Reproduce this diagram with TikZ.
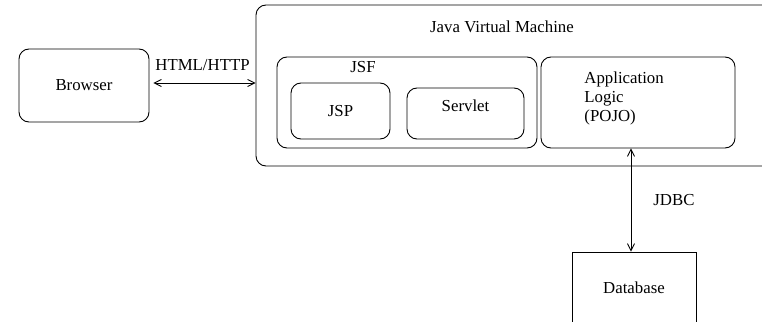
\documentclass[tikz,border=0pt]{standalone}
\usepackage{fontspec}
\setmainfont{Liberation Serif}
\usetikzlibrary{arrows.meta}

\begin{document}
\begin{tikzpicture}[x=1pt,y=-1pt,>={Straight Barb[length=7pt,width=7pt]},line width=0.9pt,
	main box/.style={draw,rounded corners=10pt,inner sep=0pt,font=\fontsize{16.8}{19}\selectfont},
	plain box/.style={draw,inner sep=0pt,font=\fontsize{16.8}{19}\selectfont},
	label text/.style={inner sep=0pt,font=\fontsize{16.8}{19}\selectfont}]
	
	\useasboundingbox (0,0) rectangle (762,321);
	\clip (0,0) rectangle (762,321);
	
	\node[main box,minimum width=130pt,minimum height=73pt] (browser) at (84,85.5) {Browser};
	\node[main box,minimum width=524pt,minimum height=161pt] (jvm) at (518,85.5) {};
	\node[label text] (jvmtitle) at (502,27) {Java Virtual Machine};
	
	\node[main box,minimum width=260pt,minimum height=91pt] (jsf) at (407,102.5) {};
	\node[label text] (jsftitle) at (363,67) {JSF};
	\node[main box,minimum width=99pt,minimum height=56pt] (jsp) at (340.5,111) {JSP};
	\node[main box,minimum width=117pt,minimum height=51pt,text height=12pt,text depth=17pt] (servlet) at (465.5,113.5) {Servlet};
	
	\node[main box,minimum width=194pt,minimum height=91pt] (app) at (638,102.5) {};
	\node[label text,anchor=west,align=left] (apptext) at (584,98) {Application\\Logic\\(POJO)};
	
	\node[plain box,minimum width=124pt,minimum height=72pt] (db) at (634,288) {Database};
	
	\draw[<->,shorten <=4pt] (browser.east |- 0,83) -- (jvm.west |- 0,83)
		node[label text,midway,above=12pt] (http) {HTML/HTTP};
	\draw[<->] (db.north -| 631,0) -- (app.south -| 631,0)
		node[label text,midway,right=22pt] (jdbc) {JDBC};
\end{tikzpicture}
\end{document}
